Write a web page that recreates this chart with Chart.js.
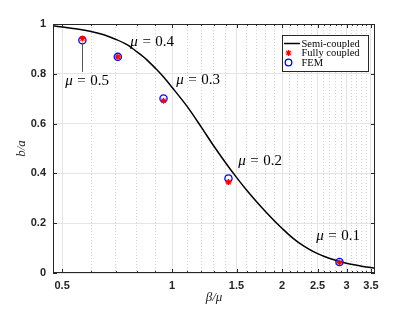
<!DOCTYPE html>
<html><head><meta charset="utf-8">
<script src="https://cdn.jsdelivr.net/npm/chart.js@4"></script>
<style>html,body{margin:0;padding:0;background:#fff}#wrap{width:415px;height:309px}</style>
</head><body><div id="wrap"><canvas id="c" width="415" height="309"></canvas></div>
<script>
// ---- data ----
const semiX = [0.472,0.5,0.55,0.6,0.65,0.7,0.75,0.8,0.85,0.9,0.95,1.0,1.1,1.2,1.3,1.4,1.5,1.6,1.7,1.8,1.9,2.0,2.1,2.2,2.3,2.4,2.5,2.6,2.8,3.0,3.2,3.4,3.59];
const semiY = [0.993,0.988,0.980,0.970,0.957,0.939,0.918,0.889,0.858,0.822,0.785,0.745,0.668,0.587,0.510,0.443,0.384,0.332,0.287,0.247,0.211,0.179,0.150,0.126,0.107,0.091,0.078,0.067,0.051,0.039,0.031,0.024,0.019];
const muValues = ['0.5','0.4','0.3','0.2','0.1'];
const pointX = [0.568,0.710,0.947,1.426,2.87];
const fullyY = [0.942,0.868,0.692,0.365,0.042];
const femY = [0.935,0.868,0.701,0.380,0.044];
const labelX = [0.585,0.882,1.178,1.741,2.846];
const labelY = [0.775,0.932,0.779,0.454,0.153];
const xMajorTicks = [0.5,1,1.5,2,2.5,3,3.5];
const xMinorTicks = [0.6,0.7,0.8,0.9,1.1,1.2,1.3,1.4,1.6,1.7,1.8,1.9,2.1,2.2,2.3,2.4,2.6,2.7,2.8,2.9,3.1,3.2,3.3,3.4];
const yTicks = [0,0.2,0.4,0.6,0.8,1];
const seriesNames = ['Semi-coupled','Fully coupled','FEM'];

const AX = '#262626';
const SERIF = '"Liberation Serif", "Times New Roman", serif';

function drawMu(ctx, cx, cy, val) {
  const fs = 15;
  ctx.fillStyle = '#000';
  ctx.textBaseline = 'alphabetic';
  ctx.textAlign = 'left';
  ctx.font = 'italic ' + fs + 'px ' + SERIF;
  const w1 = ctx.measureText('μ').width;
  ctx.font = fs + 'px ' + SERIF;
  const wEq = ctx.measureText('=').width;
  const wV = ctx.measureText(val).width;
  const gap = fs * 0.3;
  const total = w1 + gap + wEq + gap + wV;
  let x = cx - total / 2;
  const base = cy + fs * 0.33;
  ctx.font = 'italic ' + fs + 'px ' + SERIF;
  ctx.fillText('μ', x, base);
  x += w1 + gap;
  ctx.font = fs + 'px ' + SERIF;
  ctx.fillText('=', x, base);
  x += wEq + gap;
  ctx.fillText(val, x, base);
}

const framePlugin = {
  id: 'frame',
  afterDatasetsDraw(chart) {
    const {ctx, chartArea: a, scales} = chart;
    const xs = scales.x, ys = scales.y;
    ctx.save();
    // box
    ctx.strokeStyle = AX; ctx.lineWidth = 1;
    ctx.strokeRect(Math.round(a.left) + 0.5, Math.round(a.top) + 0.5, Math.round(a.right - a.left) - 1, Math.round(a.bottom - a.top) - 1);
    // inner ticks
    ctx.beginPath();
    const tk = (v, len) => {
      const px = Math.round(xs.getPixelForValue(v)) + 0.5;
      ctx.moveTo(px, a.bottom); ctx.lineTo(px, a.bottom - len);
      ctx.moveTo(px, a.top); ctx.lineTo(px, a.top + len);
    };
    xMajorTicks.forEach(v => tk(v, 4));
    xMinorTicks.forEach(v => tk(v, 2));
    yTicks.forEach(v => {
      const py = Math.round(ys.getPixelForValue(v)) + 0.5;
      ctx.moveTo(a.left, py); ctx.lineTo(a.left + 4, py);
      ctx.moveTo(a.right, py); ctx.lineTo(a.right - 4, py);
    });
    ctx.stroke();
    // leader line for first label
    ctx.strokeStyle = '#555'; ctx.lineWidth = 1;
    ctx.beginPath();
    const lx = Math.round(xs.getPixelForValue(pointX[0])) + 0.5;
    ctx.moveTo(lx, ys.getPixelForValue(0.925));
    ctx.lineTo(lx, ys.getPixelForValue(0.808));
    ctx.stroke();
    // mu labels
    muValues.forEach((m, i) => drawMu(ctx, xs.getPixelForValue(labelX[i]), ys.getPixelForValue(labelY[i]), m));
    // legend
    const L = 282, T = 35, R = 369, B = 72;
    ctx.fillStyle = '#fff';
    ctx.fillRect(L, T, R - L, B - T);
    ctx.strokeStyle = AX; ctx.lineWidth = 1;
    ctx.strokeRect(L + 0.5, T + 0.5, R - L - 1, B - T - 1);
    const rows = [43.5, 53, 62.5];
    ctx.font = '10.5px ' + SERIF;
    ctx.fillStyle = '#000';
    ctx.textBaseline = 'middle';
    ctx.textAlign = 'left';
    seriesNames.forEach((n, i) => ctx.fillText(n, 301.5, rows[i] + 0.5));
    ctx.strokeStyle = '#000'; ctx.lineWidth = 1.5;
    ctx.beginPath(); ctx.moveTo(284, rows[0]); ctx.lineTo(300, rows[0]); ctx.stroke();
    ctx.strokeStyle = '#ff0000'; ctx.fillStyle = '#ff0000'; ctx.lineWidth = 1.2;
    Chart.helpers.drawPoint(ctx, {pointStyle: 'star', radius: 3, borderWidth: 1.2}, 288.5, rows[1]);
    ctx.strokeStyle = '#0000ff'; ctx.lineWidth = 1.3;
    ctx.beginPath(); ctx.arc(288.5, rows[2], 3.3, 0, Math.PI * 2); ctx.stroke();
    ctx.restore();
  }
};

new Chart(document.getElementById('c'), {
  type: 'line',
  data: {
    datasets: [
      {
        label: seriesNames[1],
        data: pointX.map((x, i) => ({x, y: fullyY[i]})),
        showLine: false, pointStyle: 'star', pointRadius: 3, pointBorderWidth: 1.2,
        borderColor: '#ff0000', backgroundColor: '#ff0000', order: 0
      },
      {
        label: seriesNames[2],
        data: pointX.map((x, i) => ({x, y: femY[i]})),
        showLine: false, pointStyle: 'circle', pointRadius: 3.6, pointBorderWidth: 1.3,
        borderColor: '#0000ff', backgroundColor: 'rgba(0,0,0,0)', order: 1
      },
      {
        label: seriesNames[0],
        data: semiX.map((x, i) => ({x, y: semiY[i]})),
        borderColor: '#000', borderWidth: 1.5, pointRadius: 0,
        cubicInterpolationMode: 'monotone', fill: false, order: 2
      }
    ]
  },
  options: {
    responsive: false, animation: false, devicePixelRatio: 1,
    layout: {padding: {top: 24, right: 40, left: 0, bottom: 0}},
    plugins: {legend: {display: false}, tooltip: {enabled: false}},
    scales: {
      x: {
        type: 'logarithmic', position: 'bottom', min: 0.472, max: 3.59,
        afterBuildTicks: s => { s.ticks = xMajorTicks.map(v => ({value: v})); },
        afterFit: s => { s.height = 36; },
        ticks: {
          autoSkip: false, maxRotation: 0, padding: 6, color: AX,
          font: {family: '"Liberation Sans", Arial, sans-serif', size: 11, weight: 'bold'},
          callback: v => String(v)
        },
        grid: {color: '#e4e4e4', lineWidth: 1, drawTicks: false},
        border: {display: false},
        title: {display: true, text: 'β/μ', color: '#222', font: {family: SERIF, size: 13, style: 'italic'}, padding: {top: 0, bottom: 4}}
      },
      xMinor: {
        type: 'logarithmic', position: 'top', min: 0.472, max: 3.59,
        afterBuildTicks: s => { s.ticks = xMinorTicks.map(v => ({value: v})); },
        afterFit: s => { s.height = 0; },
        ticks: {display: false},
        grid: {color: '#d2d2d2', lineWidth: 1, drawTicks: false},
        border: {display: false, dash: [1, 2]}
      },
      y: {
        type: 'linear', min: 0, max: 1,
        afterBuildTicks: s => { s.ticks = yTicks.map(v => ({value: v})); },
        afterFit: s => { s.width = 53; },
        ticks: {
          padding: 7, color: AX,
          font: {family: '"Liberation Sans", Arial, sans-serif', size: 11, weight: 'bold'},
          callback: v => String(v)
        },
        grid: {color: '#e4e4e4', lineWidth: 1, drawTicks: false},
        border: {display: false},
        title: {display: true, text: 'b/a', color: '#222', font: {family: SERIF, size: 13, style: 'italic'}, padding: {top: 14, bottom: 0}}
      }
    }
  },
  plugins: [framePlugin]
});
</script>
</body></html>
